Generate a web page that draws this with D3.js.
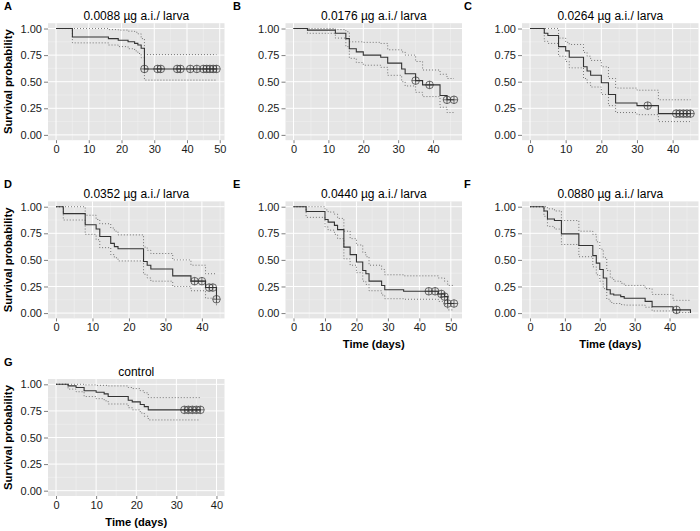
<!DOCTYPE html>
<html>
<head>
<meta charset="utf-8">
<script src="https://cdn.jsdelivr.net/npm/d3@7"></script>
<style>
  body { margin: 0; background: #fff; }
  svg { display: block; font-family: "Liberation Sans", Arial, Helvetica, sans-serif; }
</style>
</head>
<body>
<svg id="chart" width="700" height="531"></svg>
<script>
// ---------------- DATA ----------------
const panelLetters = ["A", "B", "C", "D", "E", "F", "G"];
const panelTitles = ["0.0088 µg a.i./ larva", "0.0176 µg a.i./ larva", "0.0264 µg a.i./ larva",
  "0.0352 µg a.i./ larva", "0.0440 µg a.i./ larva", "0.0880 µg a.i./ larva", "control"];
const xMaxes = [49, 46, 45, 44, 51, 46, 40];
const yTicks = [0, 0.25, 0.5, 0.75, 1];
const yTickLabels = ["0.00", "0.25", "0.50", "0.75", "1.00"];

// A: 0.0088
const timesA = [0, 5, 16, 19, 22, 24, 25, 26, 27, 49];
const survA  = [1, 0.92, 0.905, 0.89, 0.875, 0.86, 0.845, 0.815, 0.62, 0.62];
const upperA = [1, 1, 0.99, 0.985, 0.975, 0.965, 0.95, 0.905, 0.755, 0.755];
const lowerA = [1, 0.865, 0.845, 0.83, 0.81, 0.79, 0.765, 0.725, 0.515, 0.515];
const censTimesA = [27, 31, 32, 37, 38, 41, 43, 45, 46, 47, 48, 49];
const censSurvA  = [0.62, 0.62, 0.62, 0.62, 0.62, 0.62, 0.62, 0.62, 0.62, 0.62, 0.62, 0.62];

// B: 0.0176
const timesB = [0, 4, 12, 15, 16, 18, 20, 25, 27, 31, 32, 35, 37, 42, 44, 46];
const survB  = [1, 0.985, 0.955, 0.905, 0.81, 0.78, 0.75, 0.73, 0.675, 0.62, 0.575, 0.51, 0.47, 0.37, 0.33, 0.33];
const upperB = [1, 1, 0.99, 0.97, 0.875, 0.875, 0.87, 0.86, 0.80, 0.78, 0.75, 0.69, 0.61, 0.57, 0.53, 0.53];
const lowerB = [1, 0.955, 0.91, 0.83, 0.72, 0.68, 0.655, 0.635, 0.56, 0.50, 0.46, 0.40, 0.36, 0.26, 0.21, 0.21];
const censTimesB = [35, 39, 44, 46];
const censSurvB  = [0.51, 0.47, 0.33, 0.33];

// C: 0.0264
const timesC = [0, 4, 5, 8, 10, 11, 15, 16, 17, 20, 22, 24, 30, 36, 45];
const survC  = [1, 0.955, 0.935, 0.83, 0.79, 0.73, 0.64, 0.60, 0.56, 0.49, 0.38, 0.30, 0.275, 0.20, 0.20];
const upperC = [1, 1, 1, 0.91, 0.87, 0.85, 0.775, 0.74, 0.70, 0.64, 0.53, 0.44, 0.42, 0.33, 0.33];
const lowerC = [1, 0.88, 0.86, 0.74, 0.69, 0.63, 0.53, 0.49, 0.45, 0.38, 0.275, 0.21, 0.19, 0.125, 0.125];
const censTimesC = [33, 41, 42, 43, 44, 45];
const censSurvC  = [0.275, 0.20, 0.20, 0.20, 0.20, 0.20];

// D: 0.0352
const timesD = [0, 2, 8, 11, 12, 15, 16, 17, 24, 25, 26, 32, 37, 41, 44];
const survD  = [1, 0.935, 0.83, 0.79, 0.72, 0.655, 0.625, 0.605, 0.485, 0.45, 0.415, 0.35, 0.30, 0.24, 0.13];
const upperD = [1, 1, 0.92, 0.88, 0.84, 0.80, 0.77, 0.735, 0.62, 0.59, 0.56, 0.50, 0.45, 0.37, 0.37];
const lowerD = [1, 0.875, 0.74, 0.69, 0.615, 0.55, 0.52, 0.49, 0.365, 0.33, 0.30, 0.25, 0.21, 0.14, 0.065];
const censTimesD = [38, 40, 42, 43, 44];
const censSurvD  = [0.30, 0.30, 0.24, 0.24, 0.13];

// E: 0.0440
const timesE = [0, 4, 10, 11, 13, 14, 16, 18, 20, 22, 23, 24, 28, 29, 35, 46, 48, 49, 51];
const survE  = [1, 0.955, 0.88, 0.855, 0.825, 0.785, 0.62, 0.55, 0.48, 0.40, 0.37, 0.30, 0.26, 0.22, 0.205, 0.18, 0.155, 0.09, 0.09];
const upperE = [1, 1, 0.97, 0.95, 0.93, 0.89, 0.77, 0.70, 0.64, 0.57, 0.53, 0.45, 0.41, 0.36, 0.35, 0.33, 0.30, 0.26, 0.26];
const lowerE = [1, 0.90, 0.81, 0.78, 0.74, 0.70, 0.51, 0.45, 0.38, 0.30, 0.27, 0.21, 0.17, 0.135, 0.13, 0.11, 0.08, 0.03, 0.03];
const censTimesE = [43, 45, 47, 48, 49, 51];
const censSurvE  = [0.205, 0.205, 0.18, 0.155, 0.09, 0.09];

// F: 0.0880
const timesF = [0, 4, 5, 7, 9, 14, 18, 19, 20, 21, 22, 23, 24, 26, 27, 33, 35, 41, 46];
const survF  = [1, 0.96, 0.885, 0.87, 0.745, 0.635, 0.54, 0.47, 0.41, 0.33, 0.22, 0.18, 0.17, 0.155, 0.14, 0.11, 0.06, 0.03, 0.0];
const upperF = [1, 1, 0.98, 0.96, 0.87, 0.77, 0.74, 0.67, 0.60, 0.52, 0.40, 0.33, 0.30, 0.28, 0.26, 0.23, 0.175, 0.12, 0.12];
const lowerF = [1, 0.91, 0.815, 0.79, 0.645, 0.53, 0.435, 0.36, 0.30, 0.23, 0.13, 0.10, 0.09, 0.08, 0.075, 0.055, 0.02, 0.005, 0.005];
const censTimesF = [42];
const censSurvF  = [0.03];

// G: control
const timesG = [0, 3, 5, 7, 10, 12, 13, 18, 19, 21, 22, 23, 36];
const survG  = [1, 0.985, 0.97, 0.94, 0.925, 0.91, 0.885, 0.85, 0.835, 0.81, 0.79, 0.76, 0.76];
const upperG = [1, 1, 1, 0.995, 0.99, 0.99, 0.985, 0.97, 0.96, 0.94, 0.92, 0.875, 0.875];
const lowerG = [1, 0.955, 0.93, 0.885, 0.865, 0.845, 0.815, 0.78, 0.76, 0.73, 0.70, 0.665, 0.665];
const censTimesG = [32, 33, 34, 35, 36];
const censSurvG  = [0.76, 0.76, 0.76, 0.76, 0.76];

// ---------------- LAYOUT ----------------
const panels = [
  {t: timesA, s: survA, u: upperA, l: lowerA, ct: censTimesA, cs: censSurvA},
  {t: timesB, s: survB, u: upperB, l: lowerB, ct: censTimesB, cs: censSurvB},
  {t: timesC, s: survC, u: upperC, l: lowerC, ct: censTimesC, cs: censSurvC},
  {t: timesD, s: survD, u: upperD, l: lowerD, ct: censTimesD, cs: censSurvD},
  {t: timesE, s: survE, u: upperE, l: lowerE, ct: censTimesE, cs: censSurvE},
  {t: timesF, s: survF, u: upperF, l: lowerF, ct: censTimesF, cs: censSurvF},
  {t: timesG, s: survG, u: upperG, l: lowerG, ct: censTimesG, cs: censSurvG}
];

const colLefts = [48, 285.5, 522];
const rowTops = [23.2, 201.4, 379];
const pw = 176.5, ph = 117;
const showYTitle = [true, false, false, true, false, false, true];
const showXTitle = [false, false, false, false, true, true, true];

const svg = d3.select("#chart");

panels.forEach((p, i) => {
  const col = i % 3, row = Math.floor(i / 3);
  const x0 = colLefts[col], y0 = rowTops[row];
  const D = xMaxes[i];
  const x = d3.scaleLinear().domain([-0.05 * D, 1.05 * D]).range([x0, x0 + pw]);
  const y = d3.scaleLinear().domain([-0.05, 1.05]).range([y0 + ph, y0]);
  const g = svg.append("g");

  // panel background
  g.append("rect").attr("x", x0).attr("y", y0).attr("width", pw).attr("height", ph).attr("fill", "#E5E5E5");

  const xMajor = d3.range(0, 1.05 * D + 0.001, 10);
  const xMinor = d3.range(5, 1.05 * D, 10);
  const yMinor = [0.125, 0.375, 0.625, 0.875];

  // minor grid
  g.selectAll(".xmin").data(xMinor).enter().append("line")
    .attr("x1", d => x(d)).attr("x2", d => x(d)).attr("y1", y0).attr("y2", y0 + ph)
    .attr("stroke", "#F2F2F2").attr("stroke-width", 0.5);
  g.selectAll(".ymin").data(yMinor).enter().append("line")
    .attr("x1", x0).attr("x2", x0 + pw).attr("y1", d => y(d)).attr("y2", d => y(d))
    .attr("stroke", "#F2F2F2").attr("stroke-width", 0.5);
  // major grid
  g.selectAll(".xmaj").data(xMajor).enter().append("line")
    .attr("x1", d => x(d)).attr("x2", d => x(d)).attr("y1", y0).attr("y2", y0 + ph)
    .attr("stroke", "#FFFFFF").attr("stroke-width", 1);
  g.selectAll(".ymaj").data(yTicks).enter().append("line")
    .attr("x1", x0).attr("x2", x0 + pw).attr("y1", d => y(d)).attr("y2", d => y(d))
    .attr("stroke", "#FFFFFF").attr("stroke-width", 1);

  // axes
  const xAxis = d3.axisBottom(x).tickValues(xMajor).tickFormat(d3.format("d")).tickSize(3).tickPadding(2);
  const gx = g.append("g").attr("transform", `translate(0,${y0 + ph})`).call(xAxis);
  gx.select(".domain").remove();
  gx.selectAll(".tick line").attr("stroke", "#7F7F7F");
  gx.selectAll(".tick text").attr("font-size", 11).attr("fill", "#1a1a1a")
    .attr("font-family", "Liberation Sans, Arial, sans-serif");

  const yAxis = d3.axisLeft(y).tickValues(yTicks).tickFormat((d, k) => yTickLabels[k]).tickSize(4).tickPadding(2);
  const gy = g.append("g").attr("transform", `translate(${x0},0)`).call(yAxis);
  gy.select(".domain").remove();
  gy.selectAll(".tick line").attr("stroke", "#7F7F7F");
  gy.selectAll(".tick text").attr("font-size", 11).attr("fill", "#1a1a1a")
    .attr("font-family", "Liberation Sans, Arial, sans-serif");

  // curves
  const pts = arr => p.t.map((t, k) => [t, arr[k]]);
  const line = d3.line().x(d => x(d[0])).y(d => y(d[1])).curve(d3.curveStepAfter);
  [p.u, p.l].forEach(arr => {
    g.append("path").attr("d", line(pts(arr))).attr("fill", "none")
      .attr("stroke", "#555").attr("stroke-width", 0.8).attr("stroke-dasharray", "1,2");
  });
  g.append("path").attr("d", line(pts(p.s))).attr("fill", "none")
    .attr("stroke", "#333").attr("stroke-width", 1.1);

  // censor marks (circle with plus)
  const r = 3.8;
  const cg = g.selectAll(".cens").data(p.ct.map((t, k) => [t, p.cs[k]])).enter().append("g")
    .attr("transform", d => `translate(${x(d[0])},${y(d[1])})`);
  cg.append("circle").attr("r", r).attr("fill", "none").attr("stroke", "#333").attr("stroke-width", 0.7);
  cg.append("line").attr("x1", -r).attr("x2", r).attr("y1", 0).attr("y2", 0).attr("stroke", "#333").attr("stroke-width", 0.7);
  cg.append("line").attr("y1", -r).attr("y2", r).attr("x1", 0).attr("x2", 0).attr("stroke", "#333").attr("stroke-width", 0.7);

  // title
  g.append("text").attr("x", x0 + pw / 2).attr("y", y0 - 3).attr("text-anchor", "middle")
    .attr("font-size", 12).attr("fill", "#000").text(panelTitles[i]);
  // letter
  const letterX = [4, 233, 464][col];
  g.append("text").attr("x", letterX).attr("y", y0 - 13).attr("font-size", 11)
    .attr("font-weight", "bold").attr("fill", "#000").text(panelLetters[i]);

  if (showYTitle[i]) {
    g.append("text").attr("transform", `translate(12,${y0 + ph / 2}) rotate(-90)`)
      .attr("text-anchor", "middle").attr("font-size", 11.3).attr("font-weight", "bold")
      .attr("fill", "#000").text("Survival probability");
  }
  if (showXTitle[i]) {
    g.append("text").attr("x", x0 + pw / 2).attr("y", y0 + ph + 29.5).attr("text-anchor", "middle")
      .attr("font-size", 11.2).attr("font-weight", "bold").attr("fill", "#000").text("Time (days)");
  }
});
</script>
</body>
</html>
